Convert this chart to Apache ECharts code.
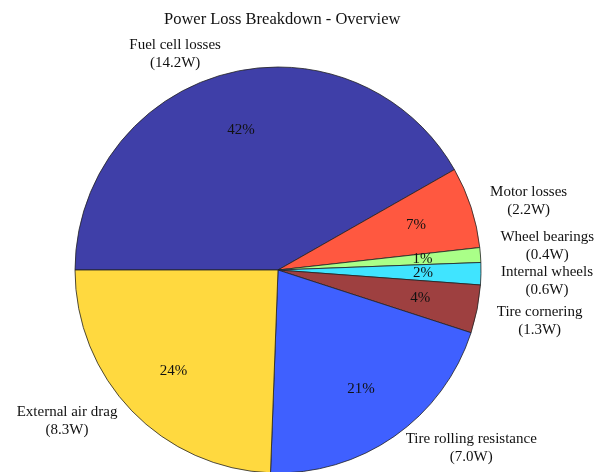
<!DOCTYPE html>
<html>
<head>
<meta charset="utf-8">
<script src="https://cdn.jsdelivr.net/npm/echarts@6/dist/echarts.min.js"></script>
<style>html,body{margin:0;padding:0;background:#fff}#c{width:609px;height:472px}</style>
</head>
<body>
<div id="c"></div>
<script>
const categories = ['Fuel cell losses', 'Motor losses', 'Wheel bearings', 'Internal wheels', 'Tire cornering', 'Tire rolling resistance', 'External air drag'];
const powerW = [14.2, 2.2, 0.4, 0.6, 1.3, 7.0, 8.3];
const valueLabels = ['14.2W', '2.2W', '0.4W', '0.6W', '1.3W', '7.0W', '8.3W'];
const percentLabels = ['42%', '7%', '1%', '2%', '4%', '21%', '24%'];
const colors = ['#3f3fa8', '#ff5840', '#aaff88', '#40e4ff', '#9e4040', '#3f60ff', '#ffd93f'];
const labelDy = [0, 0, -7, 7, 8, -5, -4];

const font = '"Liberation Serif", "Times New Roman", serif';
const chart = echarts.init(document.getElementById('c'), null, {renderer: 'canvas'});
const cx = 278, cy = 270, R = 203;

chart.setOption({
  animation: false,
  title: {
    text: 'Power Loss Breakdown - Overview',
    left: 159, top: 6,
    textStyle: {fontFamily: font, fontSize: 16.5, fontWeight: 'normal', color: '#111'}
  },
  series: [
    {
      type: 'pie',
      center: [cx, cy],
      radius: [0, R],
      startAngle: 180,
      clockwise: true,
      avoidLabelOverlap: false,
      minShowLabelAngle: 0,
      data: categories.map((n, i) => ({name: n, value: powerW[i], itemStyle: {color: colors[i]}})),
      itemStyle: {borderColor: '#222', borderWidth: 0.8},
      label: {
        show: true,
        position: 'outside',
        distanceToLabelLine: 0,
        formatter: (p) => '{a|' + categories[p.dataIndex] + '}\n{a|(' + valueLabels[p.dataIndex] + ')}',
        rich: {a: {fontFamily: font, fontSize: 15, color: '#111', align: 'center', lineHeight: 18}}
      },
      labelLine: {show: false, length: 20, length2: 0},
      labelLayout: (p) => ({dy: labelDy[p.dataIndex], hideOverlap: false}),
      emphasis: {disabled: true},
      silent: true
    },
    {
      type: 'pie',
      center: [cx, cy],
      radius: [0, 284],
      startAngle: 180,
      clockwise: true,
      avoidLabelOverlap: false,
      minShowLabelAngle: 0,
      data: categories.map((n, i) => ({name: n, value: powerW[i]})),
      itemStyle: {color: 'rgba(0,0,0,0)', borderWidth: 0},
      label: {
        show: true,
        position: 'inside',
        formatter: (p) => percentLabels[p.dataIndex],
        fontFamily: font, fontSize: 15, color: '#111'
      },
      labelLayout: {hideOverlap: false},
      labelLine: {show: false},
      emphasis: {disabled: true},
      silent: true,
      z: 3
    }
  ]
});
</script>
</body>
</html>
